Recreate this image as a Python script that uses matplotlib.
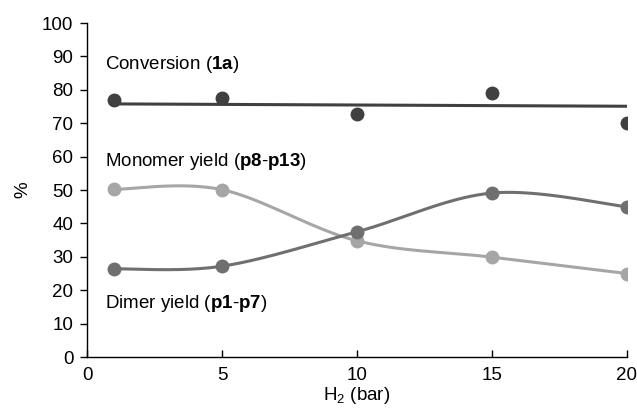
import matplotlib
matplotlib.use("Agg")
import matplotlib.pyplot as plt
import numpy as np

plt.rcParams["font.family"] = ["Liberation Sans", "DejaVu Sans"]
plt.rcParams["mathtext.fontset"] = "custom"
plt.rcParams["mathtext.rm"] = "Liberation Sans"
plt.rcParams["mathtext.bf"] = "Liberation Sans:bold"

# H2 pressure (bar)
pressure = [1, 5, 10, 15, 20]
conversion = [77.0, 77.6, 72.7, 79.2, 70.1]
monomer_yield = [50.2, 50.1, 34.8, 29.9, 25.0]
dimer_yield = [26.4, 27.2, 37.5, 49.1, 45.0]

# straight trend line drawn through the conversion points
trend_x = [1, 20]
trend_y = [75.8, 75.1]

FS = 13.5


def smooth(x, y, n=40):
    """Cardinal-spline (Excel style) smoothing through the given points."""
    p = np.column_stack([x, y]).astype(float)
    ext = np.vstack([p[0], p, p[-1]])
    t = np.linspace(0, 1, n)[:, None]
    out = []
    for i in range(1, len(ext) - 2):
        p0, p1, p2, p3 = ext[i - 1], ext[i], ext[i + 1], ext[i + 2]
        c1 = p1 + (p2 - p0) / 6
        c2 = p2 - (p3 - p1) / 6
        seg = ((1 - t) ** 3) * p1 + 3 * ((1 - t) ** 2) * t * c1 \
            + 3 * (1 - t) * t ** 2 * c2 + t ** 3 * p2
        out.append(seg)
    out = np.vstack(out)
    return out[:, 0], out[:, 1]


fig = plt.figure(figsize=(6.37, 4.2), dpi=100)
ax = fig.add_axes([0.137, 0.15, 0.847, 0.795])

dark, mid, light = "#404040", "#6f6f6f", "#a6a6a6"

ax.plot(trend_x, trend_y, color=dark, lw=2.2, zorder=2)
ax.plot(pressure, conversion, "o", color=dark, ms=9, zorder=3)

for vals, col in ((monomer_yield, light), (dimer_yield, mid)):
    sx, sy = smooth(pressure, vals)
    ax.plot(sx, sy, color=col, lw=2.2, zorder=2)
    ax.plot(pressure, vals, "o", color=col, ms=9, zorder=3)

ax.text(0.65, 87.7, r"Conversion ($\mathbf{1a}$)", fontsize=FS, va="center")
ax.text(0.65, 58.5, r"Monomer yield ($\mathbf{p8}$-$\mathbf{p13}$)", fontsize=FS, va="center")
ax.text(0.65, 16.0, r"Dimer yield ($\mathbf{p1}$-$\mathbf{p7}$)", fontsize=FS, va="center")

ax.set_xlim(0, 20)
ax.set_ylim(0, 100)
ax.set_xticks([0, 5, 10, 15, 20])
ax.set_yticks(np.arange(0, 101, 10))
ax.tick_params(axis="x", direction="in", length=5, labelsize=FS, pad=7, width=1)
ax.tick_params(axis="y", direction="out", length=5, labelsize=FS, pad=5, width=1)
for side in ("top", "right"):
    ax.spines[side].set_visible(False)
for side in ("left", "bottom"):
    ax.spines[side].set_linewidth(1)
ax.set_xlabel(r"H$_2$ (bar)", fontsize=FS, labelpad=1)
ax.set_ylabel("%", fontsize=FS, labelpad=8)

fig.savefig("out.png", dpi=100)
